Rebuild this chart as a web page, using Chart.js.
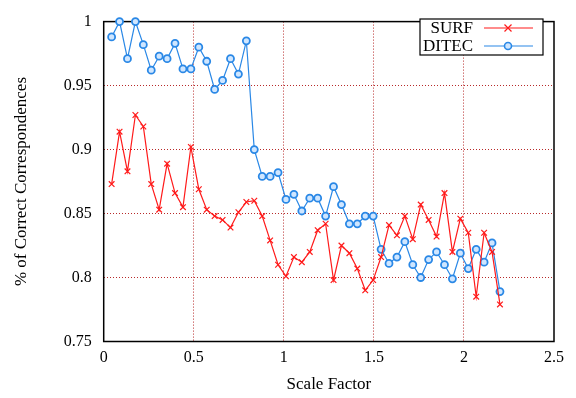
<!DOCTYPE html>
<html>
<head>
<meta charset="utf-8">
<script src="https://cdn.jsdelivr.net/npm/chart.js@4.4.1/dist/chart.umd.min.js"></script>
<style>
  html, body { margin: 0; padding: 0; background: #fff; }
  #wrap { width: 576px; height: 398px; }
</style>
</head>
<body>
<div id="wrap"><canvas id="chart" width="576" height="398"></canvas></div>
<script>
// scale factors (x values)
const scales = [0.044, 0.088, 0.132, 0.176, 0.22, 0.264, 0.308, 0.352, 0.396, 0.44,
  0.484, 0.528, 0.572, 0.616, 0.66, 0.704, 0.748, 0.792, 0.836, 0.88,
  0.924, 0.968, 1.012, 1.056, 1.1, 1.144, 1.188, 1.232, 1.276, 1.32,
  1.364, 1.408, 1.452, 1.496, 1.54, 1.584, 1.628, 1.672, 1.716, 1.76,
  1.804, 1.848, 1.892, 1.936, 1.98, 2.024, 2.068, 2.112, 2.156, 2.2];

const surf = [0.873, 0.914, 0.883, 0.927, 0.918, 0.873, 0.853, 0.889, 0.866, 0.855,
  0.902, 0.869, 0.853, 0.848, 0.845, 0.839, 0.851, 0.859, 0.860, 0.848,
  0.829, 0.810, 0.801, 0.816, 0.812, 0.820, 0.837, 0.842, 0.798, 0.825,
  0.819, 0.807, 0.790, 0.798, 0.816, 0.841, 0.833, 0.848, 0.830, 0.857,
  0.845, 0.832, 0.866, 0.820, 0.846, 0.835, 0.785, 0.835, 0.820, 0.779];

const ditec = [0.988, 1.0, 0.971, 1.0, 0.982, 0.962, 0.973, 0.971, 0.983, 0.963,
  0.963, 0.980, 0.969, 0.947, 0.954, 0.971, 0.959, 0.985, 0.900, 0.879,
  0.879, 0.882, 0.861, 0.865, 0.852, 0.862, 0.862, 0.848, 0.871, 0.857,
  0.842, 0.842, 0.848, 0.848, 0.822, 0.811, 0.816, 0.828, 0.810, 0.800,
  0.814, 0.820, 0.810, 0.799, 0.819, 0.807, 0.822, 0.812, 0.827, 0.789];

const xTicks = [0, 0.5, 1, 1.5, 2, 2.5];
const xTickLabels = ['0', '0.5', '1', '1.5', '2', '2.5'];
const yTicks = [0.75, 0.8, 0.85, 0.9, 0.95, 1];
const yTickLabels = ['0.75', '0.8', '0.85', '0.9', '0.95', '1'];

const FONT = '"Liberation Serif", "DejaVu Serif", serif';
const RED = '#ff1a1a';
const BLUE = '#2a88e6';
const GRID = '#b82a2a';

const toPoints = (ys) => ys.map((y, i) => ({ x: scales[i], y: y }));

// frame + legend drawn like gnuplot
const framePlugin = {
  id: 'frame',
  beforeDatasetsDraw(chart) {
    const { ctx, chartArea: a } = chart;
    ctx.save();
    ctx.strokeStyle = '#000';
    ctx.lineWidth = 1.5;
    ctx.strokeRect(a.left, a.top, a.right - a.left, a.bottom - a.top);
    ctx.restore();
  },
  afterDraw(chart) {
    const { ctx } = chart;
    ctx.save();
    // legend box
    const bx = 420, by = 19, bw = 123, bh = 36;
    ctx.fillStyle = '#fff';
    ctx.fillRect(bx, by, bw, bh);
    ctx.strokeStyle = '#000';
    ctx.lineWidth = 1.2;
    ctx.strokeRect(bx, by, bw, bh);
    ctx.font = '17px ' + FONT;
    ctx.textAlign = 'right';
    ctx.textBaseline = 'middle';
    chart.data.datasets.forEach((ds, i) => {
      const y = by + 9 + i * 18;
      ctx.fillStyle = '#000';
      ctx.fillText(ds.label, 473, y + 1);
      ctx.strokeStyle = ds.borderColor;
      ctx.lineWidth = 1.2;
      ctx.beginPath();
      ctx.moveTo(484, y);
      ctx.lineTo(533, y);
      ctx.stroke();
      const mx = 508;
      if (ds.pointStyle === 'crossRot') {
        ctx.beginPath();
        ctx.moveTo(mx - 3.5, y - 3.5); ctx.lineTo(mx + 3.5, y + 3.5);
        ctx.moveTo(mx - 3.5, y + 3.5); ctx.lineTo(mx + 3.5, y - 3.5);
        ctx.stroke();
      } else {
        ctx.beginPath();
        ctx.arc(mx, y, 3.5, 0, Math.PI * 2);
        ctx.fillStyle = ds.pointBackgroundColor;
        ctx.fill();
        ctx.lineWidth = 1.6;
        ctx.stroke();
      }
    });
    ctx.restore();
  }
};

new Chart(document.getElementById('chart'), {
  type: 'line',
  data: {
    datasets: [
      {
        label: 'SURF',
        data: toPoints(surf),
        borderColor: RED,
        backgroundColor: RED,
        borderWidth: 1.2,
        pointStyle: 'crossRot',
        pointRadius: 4,
        pointBorderWidth: 1.2,
        pointBorderColor: RED,
        pointBackgroundColor: RED,
        tension: 0,
        fill: false,
        clip: false
      },
      {
        label: 'DITEC',
        data: toPoints(ditec),
        borderColor: BLUE,
        backgroundColor: BLUE,
        borderWidth: 1.2,
        pointStyle: 'circle',
        pointRadius: 3.5,
        pointBorderWidth: 1.8,
        pointBorderColor: BLUE,
        pointBackgroundColor: '#cfe6ff',
        tension: 0,
        fill: false,
        clip: false
      }
    ]
  },
  options: {
    responsive: false,
    animation: false,
    layout: { padding: { left: 0, top: 14, right: 22, bottom: 0 } },
    plugins: {
      legend: { display: false },
      tooltip: { enabled: false }
    },
    scales: {
      x: {
        type: 'linear',
        min: 0,
        max: 2.5,
        afterBuildTicks: (s) => { s.ticks = xTicks.map(v => ({ value: v })); },
        afterFit: (s) => { s.height = 56.5; },
        ticks: {
          color: '#000',
          padding: 7,
          maxRotation: 0,
          font: { family: FONT, size: 16 },
          callback: (v) => xTickLabels[xTicks.indexOf(v)]
        },
        grid: {
          color: (c) => (c.tick && (c.tick.value === 0 || c.tick.value === 2.5)) ? 'rgba(0,0,0,0)' : GRID,
          lineWidth: 1,
          drawTicks: false
        },
        border: { display: false, dash: [1, 2] },
        title: {
          display: true,
          text: 'Scale Factor',
          color: '#000',
          font: { family: FONT, size: 17 },
          padding: { top: 4, bottom: 3 }
        }
      },
      y: {
        type: 'linear',
        min: 0.75,
        max: 1,
        afterBuildTicks: (s) => { s.ticks = yTicks.map(v => ({ value: v })); },
        afterFit: (s) => { s.width = 103.7; },
        ticks: {
          color: '#000',
          padding: 12,
          font: { family: FONT, size: 16 },
          callback: (v) => yTickLabels[yTicks.indexOf(v)]
        },
        grid: {
          color: (c) => (c.tick && (c.tick.value === 0.75 || c.tick.value === 1)) ? 'rgba(0,0,0,0)' : GRID,
          lineWidth: 1,
          drawTicks: false
        },
        border: { display: false, dash: [1, 2] },
        title: {
          display: true,
          text: '% of Correct Correspondences',
          color: '#000',
          font: { family: FONT, size: 17 },
          padding: { top: 11, bottom: 0 }
        }
      }
    }
  },
  plugins: [framePlugin]
});
</script>
</body>
</html>
